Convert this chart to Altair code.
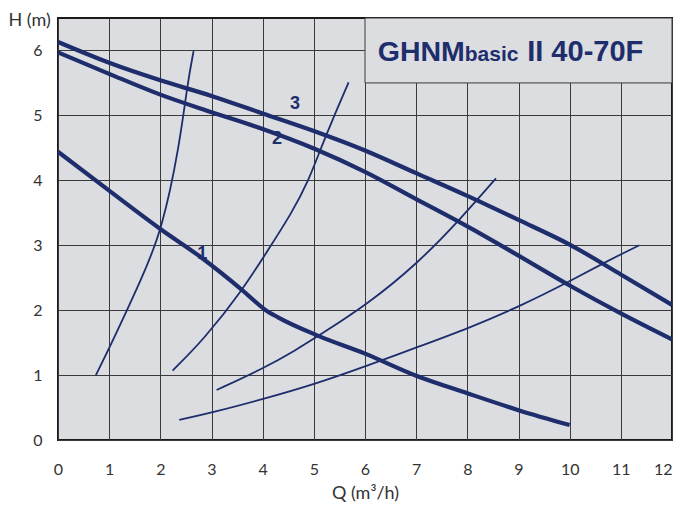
import altair as alt
import pandas as pd

# Pump curves (thick)
Q1 = [0, 1, 2, 2.82, 3.6, 4.06, 4.3, 5.1, 6.0, 7.0, 8.0, 9.0, 10.0]
H1 = [4.44, 3.84, 3.25, 2.80, 2.31, 2.0, 1.89, 1.60, 1.33, 0.99, 0.72, 0.46, 0.23]
Q2 = [0, 1, 2, 3, 4, 5, 6, 7, 8, 9, 10, 11, 12]
H2 = [5.97, 5.64, 5.32, 5.05, 4.79, 4.49, 4.13, 3.71, 3.29, 2.84, 2.38, 1.95, 1.55]
Q3 = [0, 1, 2, 3, 4, 5, 6, 7, 8, 9, 10, 11, 12]
H3 = [6.13, 5.81, 5.54, 5.30, 5.03, 4.76, 4.46, 4.11, 3.76, 3.39, 3.01, 2.55, 2.08]

# System curves (thin)
QA = [0.74, 1.03, 1.65, 2.03, 2.37, 2.53, 2.65]
HA = [1.0, 1.46, 2.51, 3.23, 4.51, 5.49, 5.99]
QB = [2.24, 2.84, 3.61, 4.14, 4.57, 4.90, 5.14, 5.40, 5.68]
HB = [1.07, 1.54, 2.31, 2.97, 3.50, 4.00, 4.50, 5.00, 5.51]
QC = [3.1, 4.01, 4.66, 5.12, 6.03, 7.03, 7.86, 8.56]
HC = [0.77, 1.10, 1.39, 1.62, 2.08, 2.72, 3.40, 4.03]
QD = [2.37, 3.0, 4.01, 5.02, 6.03, 7.02, 8.02, 9.03, 10.04, 10.72, 11.36]
HD = [0.31, 0.42, 0.63, 0.86, 1.14, 1.43, 1.72, 2.06, 2.46, 2.75, 3.0]

lbl_text = ["1", "2", "3"]
lbl_Q = [2.82, 4.28, 4.63]
lbl_H = [2.87, 4.64, 5.17]

x_ticks = list(range(0, 13))
y_ticks = [i * 0.5 for i in range(0, 14)]

NAVY = "#1e2d6c"
BG = "#dcdde0"
GRID = "#3a3a3a"


def frame(qs, hs, name):
    return pd.DataFrame({"Q": qs, "H": hs, "curve": name, "order": range(len(qs))})


pumps = pd.concat([frame(Q1, H1, "1"), frame(Q2, H2, "2"), frame(Q3, H3, "3")])
systems = pd.concat([frame(QA, HA, "A"), frame(QB, HB, "B"),
                     frame(QC, HC, "C"), frame(QD, HD, "D")])
labels = pd.DataFrame({"Q": lbl_Q, "H": lbl_H, "t": lbl_text})

xs = alt.Scale(domain=[0, 12], nice=False, zero=False)
ys = alt.Scale(domain=[0, 6.5], nice=False, zero=False)

xaxis = alt.Axis(values=x_ticks, grid=True, gridColor=GRID, gridWidth=1,
                 domain=False, ticks=False, labelFont="Lato", labelFontSize=16,
                 labelColor="#333333", labelPadding=21, labelFlush=False,
                 labelAlign={"condition": {"test": "datum.value === 12", "value": "right"},
                             "value": "center"},
                 format="d",
                 title="Q (m³/h)", titleFont="Lato", titleFontSize=18,
                 titleFontWeight="normal", titleColor="#333333",
                 titleY=44, titleBaseline="top")
yaxis = alt.Axis(values=y_ticks, grid=True, gridColor=GRID, gridWidth=1,
                 domain=False, ticks=False, labelFont="Lato", labelFontSize=16,
                 labelColor="#333333", labelPadding=16, labelFlush=False,
                 labelExpr="datum.value % 1 === 0 ? format(datum.value, 'd') : ''",
                 title="H (m)", titleFont="Lato", titleFontSize=18,
                 titleFontWeight="normal", titleColor="#333333",
                 titleAngle=0, titleAlign="left", titleBaseline="alphabetic",
                 titleX=-50, titleY=7)

base_pumps = alt.Chart(pumps).mark_line(
    color=NAVY, strokeWidth=4.2, interpolate="monotone", strokeCap="butt"
).encode(
    x=alt.X("Q:Q", scale=xs, axis=xaxis),
    y=alt.Y("H:Q", scale=ys, axis=yaxis),
    detail="curve:N",
    order="order:Q",
)

sys_lines = alt.Chart(systems).mark_line(
    color=NAVY, strokeWidth=1.8, interpolate="basis"
).encode(
    x=alt.X("Q:Q", scale=xs),
    y=alt.Y("H:Q", scale=ys),
    detail="curve:N",
    order="order:Q",
)

box = alt.Chart(pd.DataFrame({"a": [0]})).mark_rect(
    fill=BG, stroke=GRID, strokeWidth=1, opacity=1, fillOpacity=1
).encode(
    x=alt.datum(6, scale=xs), x2=alt.datum(12),
    y=alt.datum(5.5, scale=ys), y2=alt.datum(6.5),
)

one = pd.DataFrame({"a": [0]})
t1 = alt.Chart(one).mark_text(
    text="GHNM", font="Liberation Sans", fontWeight="bold", fontSize=28.5,
    color=NAVY, align="left", baseline="alphabetic"
).encode(x=alt.datum(6.25, scale=xs), y=alt.datum(5.835, scale=ys))
t2 = alt.Chart(one).mark_text(
    text="basic", font="Liberation Sans", fontWeight="bold", fontSize=21,
    color=NAVY, align="left", baseline="alphabetic"
).encode(x=alt.datum(7.95, scale=xs), y=alt.datum(5.835, scale=ys))
t3 = alt.Chart(one).mark_text(
    text="II 40-70F", font="Liberation Sans", fontWeight="bold", fontSize=29,
    color=NAVY, align="left", baseline="alphabetic"
).encode(x=alt.datum(9.17, scale=xs), y=alt.datum(5.835, scale=ys))

lbls = alt.Chart(labels).mark_text(
    font="Liberation Sans", fontWeight="bold", fontSize=18, color=NAVY,
    align="center", baseline="middle"
).encode(x=alt.X("Q:Q", scale=xs), y=alt.Y("H:Q", scale=ys), text="t:N")

chart = alt.layer(sys_lines, base_pumps, box, t1, t2, t3, lbls).properties(
    width=614, height=422,
    padding={"left": 50, "top": 10, "right": 1, "bottom": 62},
    autosize=alt.AutoSizeParams(type="none"),
    background="white",
).configure_view(
    fill=BG, stroke="#1a1a1a", strokeWidth=2
)

chart.save("out.html", embed_options={"renderer": "svg", "actions": False})
